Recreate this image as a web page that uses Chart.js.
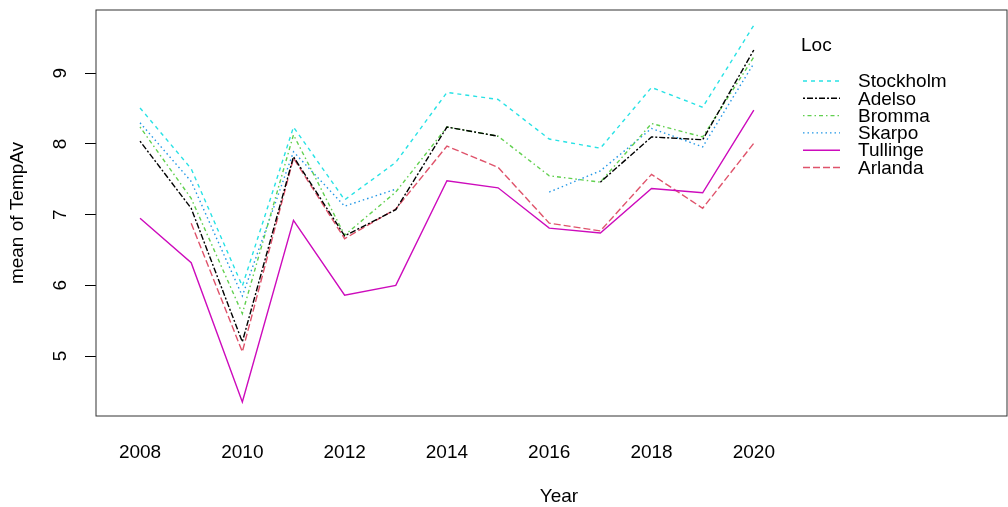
<!DOCTYPE html>
<html>
<head>
<meta charset="utf-8">
<script src="https://cdn.jsdelivr.net/npm/chart.js@4.4.0/dist/chart.umd.min.js"></script>
<style>
  body { margin: 0; background: #fff; }
</style>
</head>
<body>
<canvas id="chart" width="1008" height="507"></canvas>
<script>
"use strict";

// data (mean TempAv per Year and Loc)
const years = [2008, 2009, 2010, 2011, 2012, 2013, 2014, 2015, 2016, 2017, 2018, 2019, 2020];
const stockholm = [8.51, 7.65, 5.99, 8.24, 7.21, 7.74, 8.73, 8.63, 8.07, 7.94, 8.80, 8.52, 9.68];
const adelso = [8.04, 7.09, 5.20, 7.82, 6.70, 7.07, 8.24, 8.11, null, 7.46, 8.10, 8.06, 9.33];
const bromma = [8.24, 7.23, 5.60, 8.13, 6.71, 7.32, 8.24, 8.11, 7.55, 7.46, 8.29, 8.10, 9.23];
const skarpo = [8.30, 7.47, 5.85, 7.89, 7.12, 7.36, null, null, 7.32, 7.62, 8.22, 7.96, 9.14];
const tullinge = [6.95, 6.32, 4.35, 6.92, 5.86, 6.00, 7.48, 7.38, 6.81, 6.74, 7.37, 7.31, 8.48];
const arlanda = [null, 6.88, 5.06, 7.80, 6.66, 7.08, 7.97, 7.67, 6.88, 6.77, 7.57, 7.09, 8.01];

const locNames = ["Stockholm", "Adelso", "Bromma", "Skarpo", "Tullinge", "Arlanda"];
const locValues = [stockholm, adelso, bromma, skarpo, tullinge, arlanda];
const locColors = ["#28E2E5", "#000000", "#61D04F", "#2297E6", "#CD0BBC", "#DF536B"];
const locDashes = [[4, 4], [2, 2, 6, 2], [1.5, 3, 4, 3], [1.5, 3], [], [7, 3]];

const xTicks = [2008, 2010, 2012, 2014, 2016, 2018, 2020];
const yTicks = [5, 6, 7, 8, 9];

const fontFamily = "'Liberation Sans', Arial, sans-serif";
Chart.defaults.font.family = fontFamily;
Chart.defaults.color = "#000";

let datasets = [];
for (let i = 0; i < locNames.length; i++) {
  datasets.push({
    label: locNames[i],
    data: years.map((yr, j) => ({ x: yr, y: locValues[i][j] })),
    borderColor: locColors[i],
    borderDash: locDashes[i],
    borderWidth: 1.4,
    pointRadius: 0,
    tension: 0,
    spanGaps: false,
  });
}

// box, rotated y labels, axis titles and the legend (like R draws them)
const rStyle = {
  id: "rStyle",
  afterDraw(chart) {
    const ctx = chart.ctx;
    const area = chart.chartArea;
    const yScale = chart.scales.y;

    ctx.save();
    ctx.strokeStyle = "#333";
    ctx.lineWidth = 1;
    ctx.strokeRect(area.left, area.top, area.right - area.left, area.bottom - area.top);

    ctx.fillStyle = "#000";
    ctx.font = "19px " + fontFamily;
    ctx.textAlign = "center";
    ctx.textBaseline = "middle";
    for (let i = 0; i < yTicks.length; i++) {
      const py = yScale.getPixelForValue(yTicks[i]);
      ctx.save();
      ctx.translate(61, py);
      ctx.rotate(-Math.PI / 2);
      ctx.fillText(String(yTicks[i]), 0, 0);
      ctx.restore();
    }

    ctx.save();
    ctx.translate(18, (area.top + area.bottom) / 2);
    ctx.rotate(-Math.PI / 2);
    ctx.fillText("mean of TempAv", 0, 0);
    ctx.restore();

    ctx.fillText("Year", 559, 497);

    // legend
    ctx.textAlign = "left";
    ctx.fillText("Loc", 801, 46);
    for (let i = 0; i < locNames.length; i++) {
      const ly = 81 + i * 17.3;
      ctx.strokeStyle = locColors[i];
      ctx.lineWidth = 1.4;
      ctx.setLineDash(locDashes[i]);
      ctx.beginPath();
      ctx.moveTo(803, ly);
      ctx.lineTo(840, ly);
      ctx.stroke();
      ctx.setLineDash([]);
      ctx.fillText(locNames[i], 858, ly + 1);
    }
    ctx.restore();
  },
};

const config = {
  type: "line",
  data: { datasets: datasets },
  options: {
    responsive: false,
    animation: false,
    devicePixelRatio: 1,
    layout: { padding: { top: 10, right: 1, left: 0, bottom: 0 } },
    plugins: {
      legend: { display: false },
      tooltip: { enabled: false },
    },
    scales: {
      x: {
        type: "linear",
        min: 2007.139,
        max: 2024.95,
        afterBuildTicks: (scale) => {
          scale.ticks = xTicks.map((v) => ({ value: v }));
        },
        afterFit: (scale) => {
          scale.height = 91;
        },
        grid: { display: false },
        border: { display: false },
        ticks: {
          font: { size: 19 },
          color: "#000",
          padding: 17,
          maxRotation: 0,
          callback: (v) => String(v),
        },
      },
      y: {
        type: "linear",
        min: 4.151,
        max: 9.896,
        afterBuildTicks: (scale) => {
          scale.ticks = yTicks.map((v) => ({ value: v }));
        },
        afterFit: (scale) => {
          scale.width = 96;
        },
        grid: {
          drawOnChartArea: false,
          drawTicks: true,
          tickLength: 11,
          color: "#000",
        },
        border: { display: false },
        ticks: { display: false },
      },
    },
  },
  plugins: [rStyle],
};

const myChart = new Chart(document.getElementById("chart"), config);
</script>
</body>
</html>
